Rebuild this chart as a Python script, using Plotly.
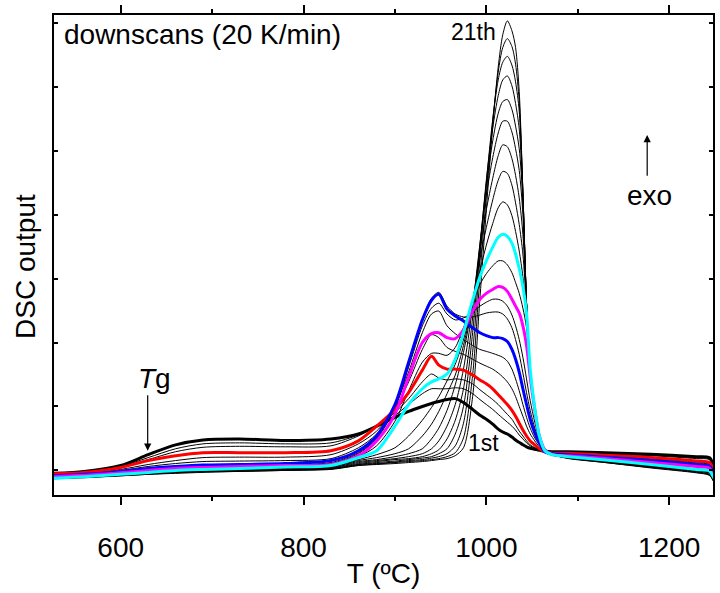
import plotly.graph_objects as go

# Temperature grid (ºC)
temperature = [527, 560, 600, 630, 660, 690, 730, 780, 830, 860, 880, 900, 915, 930, 940, 948,
               957, 966, 975, 985, 993, 1000, 1007, 1013, 1018, 1023, 1028, 1032, 1036, 1040,
               1044, 1048, 1053, 1058, 1064, 1072, 1090, 1130, 1180, 1230, 1244, 1249]

# DSC output (arbitrary units) for the 21 downscans
scan_01 = [22, 24, 30, 41, 51, 56, 57, 55.5, 57,
           62, 70, 79, 85, 90, 93, 95, 97, 98, 94, 87, 81, 77, 72, 67, 64, 62, 59, 56, 53.5, 51, 49, 47.5, 46.5, 45.5, 44.5, 44,
           44, 43, 41.5, 39, 38, 30]
scan_02 = [21.5, 23.5, 29, 38, 47, 52, 53, 52, 53,
           61, 70, 81, 92, 103, 108, 108, 108, 109, 108, 103, 97, 92, 87, 82, 78, 74, 70, 66, 61, 57, 53, 50, 48, 46, 44.5, 43.5,
           43.5, 42, 40.5, 38, 37, 29]
scan_03 = [21, 23, 28.5, 36, 44, 48.5, 49.5, 49, 50,
           60, 70, 84, 98, 115, 123, 119, 117, 118, 117, 113, 107, 102, 97, 92, 87, 82, 77, 71, 65, 60, 55, 51, 48, 46, 44, 43,
           43, 41.5, 40, 37, 36, 28]
scan_04 = [21.5, 23, 28, 35, 40, 43, 43, 43, 45,
           55, 70, 87, 104, 127, 141, 132, 128, 128, 127, 122, 117, 113, 108, 102, 97, 92, 86, 80, 73, 66, 60, 55, 51, 47, 44, 42.5,
           42.5, 40.5, 38, 34.5, 33, 25]
scan_05 = [20.5, 22, 26, 31, 35, 38, 38.5, 38.5, 41,
           52, 65, 88, 115, 148, 163, 160, 150, 146, 143, 138, 134, 131, 128, 124, 120, 115, 108, 100, 90, 80, 70, 62, 55, 49, 44, 42,
           42, 40, 37, 33.5, 32, 24]
scan_06 = [20, 21.5, 25, 29, 32, 34, 34.5, 35, 37,
           48, 62, 90, 125, 165, 184, 187, 172, 164, 158, 152, 148, 146, 144, 142, 140, 136, 128, 118, 106, 92, 79, 68, 58, 51, 44, 42,
           41.5, 39, 36, 32.5, 31, 23]
scan_07 = [19.5, 21, 24, 27, 29, 30.5, 31, 32, 35,
           45, 60, 92, 135, 178, 198, 204, 189, 182, 177, 170, 165, 162, 160, 160, 159, 156, 148, 138, 125, 108, 92, 77, 63, 53, 44, 42,
           41, 38.5, 35, 31, 29.5, 22]
scan_08 = [19, 20.5, 23.5, 26, 28, 29.5, 30, 31, 33,
           43, 58, 90, 133, 178, 200, 206, 192, 184, 181, 181, 183, 185, 186, 186, 184, 179, 170, 158, 143, 124, 104, 86, 68, 55, 45, 41,
           40.5, 38, 34.5, 30.5, 29, 21]
scan_09 = [19, 20.5, 23, 25.5, 27.5, 29, 29.5, 30.5, 32,
           42, 57, 88, 130, 172, 190, 195, 184, 178, 180, 186, 192, 196, 199, 199, 197, 192, 183, 172, 158, 140, 118, 96, 74, 57, 45, 41,
           40, 37.5, 34, 30, 28.5, 20.5]
scan_10 = [18.5, 20, 22.5, 25, 27, 28, 29, 30, 31,
           40, 55, 82, 120, 155, 164, 165, 160, 159, 168, 187, 199, 205, 209, 212, 211, 207, 199, 192, 185, 172, 152, 120, 87, 60, 46, 41,
           40, 37, 33, 29, 27.5, 20]
scan_11 = [18.5, 20, 22, 24.5, 26.5, 27.5, 28, 29.5, 30.5,
           39, 50, 75, 106, 135, 144, 144, 142, 150, 170, 196, 214, 225, 233, 238, 238, 234, 226, 216, 205, 190, 170, 126, 88, 60, 45, 41,
           39.5, 36.5, 32.5, 28.5, 27, 19.5]
scan_12 = [17, 18.5, 21, 23, 25, 26, 27, 28.5, 30,
           38, 45, 70, 92, 108, 115, 118, 123, 138, 165, 198, 222, 238, 252, 262, 265, 263, 256, 245, 230, 212, 185, 128, 88, 60, 45, 41,
           39, 35.5, 31, 26, 24.5, 17]
scan_13 = [18, 19.5, 21.5, 23.5, 25.5, 26.5, 27, 28, 29.5,
           36, 41, 48, 60, 76, 89, 100, 116, 133, 158, 195, 228, 254, 276, 292, 298, 295, 284, 268, 248, 222, 180, 126, 86, 59, 45, 41,
           39, 35.5, 31, 26.5, 25, 17]
scan_14 = [18, 19, 21, 23, 25, 26, 26.5, 27.5, 29,
           35, 38, 42, 47, 60, 72, 85, 103, 122, 152, 196, 240, 272, 300, 320, 329, 327, 315, 297, 275, 245, 190, 128, 86, 59, 45, 41,
           39, 35.5, 30.5, 26, 24.5, 16.5]
scan_15 = [17.5, 19, 21, 23, 24.5, 25.5, 26, 27, 28.5,
           34, 36, 39, 42, 47, 57, 68, 86, 112, 145, 195, 248, 290, 322, 345, 356, 354, 342, 325, 302, 265, 195, 128, 85, 58, 45, 41,
           38.5, 35, 30, 25.5, 24, 16]
scan_16 = [17.5, 18.5, 20.5, 22.5, 24, 25, 25.5, 26.5, 28,
           33, 35, 37, 39, 42, 47, 55, 70, 92, 128, 192, 255, 305, 343, 368, 380, 380, 369, 352, 330, 285, 195, 128, 85, 58, 45, 41,
           38.5, 34.5, 29.5, 25, 23, 15.5]
scan_17 = [17.5, 18.5, 20.5, 22, 23.5, 24.5, 25, 26, 27.5,
           32, 34, 36, 37, 39, 42, 46, 57, 76, 108, 180, 255, 315, 360, 388, 400, 402, 392, 375, 352, 298, 195, 128, 85, 58, 45, 41,
           38, 34, 29, 24.5, 22.5, 15]
scan_18 = [17, 18, 20, 21.5, 23, 24, 24.5, 25.5, 27,
           31, 33, 34.5, 36, 37.5, 39, 42, 47, 62, 90, 165, 250, 320, 373, 406, 422, 426, 416, 398, 372, 305, 195, 128, 85, 58, 45, 41,
           38, 34, 29, 24, 22, 14.5]
scan_19 = [17, 18, 20, 21.5, 23, 24, 24.5, 25.5, 26.5,
           31, 32, 33.5, 35, 36, 37.5, 39, 42, 50, 73, 145, 240, 318, 382, 422, 440, 446, 437, 420, 390, 308, 195, 128, 85, 58, 45, 41,
           37.5, 33.5, 28.5, 23.5, 21, 14]
scan_20 = [17, 18, 19.5, 21, 22.5, 23.5, 24, 25, 26.5,
           30, 31.5, 33, 34, 35, 36, 37, 39, 43, 58, 122, 222, 305, 380, 430, 455, 464, 456, 438, 400, 308, 195, 128, 85, 58, 45, 41,
           37.5, 33, 28, 23, 20.5, 13.5]
scan_21 = [16.5, 17.5, 19.5, 21, 22, 23, 24, 25, 26,
           30, 31, 32, 33, 34, 35, 36, 37, 40, 48, 100, 200, 290, 375, 435, 468, 482, 472, 455, 410, 308, 195, 128, 85, 58, 45, 41,
           37, 33, 27.5, 22.5, 20, 13]

scans = [scan_01, scan_02, scan_03, scan_04, scan_05, scan_06, scan_07, scan_08, scan_09, scan_10,
         scan_11, scan_12, scan_13, scan_14, scan_15, scan_16, scan_17, scan_18, scan_19, scan_20, scan_21]

# highlighted scans (index -> colour)
highlight = {0: "#000000", 3: "#FF0000", 6: "#0000FF", 9: "#FF00FF", 11: "#00FFFF"}

FONT = "Liberation Sans, Arial, sans-serif"

fig = go.Figure()
order = [i for i in range(len(scans)) if i not in highlight] + [0, 3, 6, 9, 11]
for i in order:
    thick = i in highlight
    fig.add_trace(go.Scatter(
        x=temperature, y=scans[i], mode="lines",
        line=dict(color=highlight.get(i, "#000000"), width=3 if thick else 1,
                  shape="spline", smoothing=0.8),
        name=f"scan {i + 1}", showlegend=False, hoverinfo="skip"))

fig.update_layout(
    width=720, height=593,
    margin=dict(l=54, r=5, t=7, b=98),
    paper_bgcolor="white", plot_bgcolor="white",
    font=dict(family=FONT, size=28, color="black"),
    showlegend=False,
)
fig.update_xaxes(
    range=[527, 1248], showgrid=False, zeroline=False,
    showline=True, linecolor="black", linewidth=2, mirror="allticks",
    ticks="outside", ticklen=8, tickwidth=1.5, tickcolor="black",
    tick0=0, dtick=200, ticklabelstandoff=18,
    minor=dict(ticks="outside", ticklen=4, tickwidth=1.5, tickcolor="black", dtick=100, tick0=0, showgrid=False),
    tickfont=dict(family=FONT, size=28),
    title=dict(text="T (ºC)", font=dict(family=FONT, size=28), standoff=2),
)
fig.update_yaxes(
    range=[0, 488], showgrid=False, zeroline=False,
    showline=True, linecolor="black", linewidth=2, mirror="allticks",
    ticks="inside", ticklen=4, tickwidth=1.5, tickcolor="black",
    tick0=25, dtick=65, showticklabels=False,
)

# y-axis title
fig.add_annotation(xref="paper", yref="paper", x=-0.044, y=0.475, xanchor="center", yanchor="middle",
                   text="DSC output", textangle=-90, showarrow=False, font=dict(family=FONT, size=28))

# text labels
fig.add_annotation(xref="paper", yref="paper", x=0.012, y=0.96, xanchor="left", yanchor="middle",
                   text="downscans (20 K/min)", showarrow=False, font=dict(family=FONT, size=28))
fig.add_annotation(x=986, y=471, text="21th", showarrow=False, font=dict(family=FONT, size=23),
                   xanchor="center", yanchor="middle")
fig.add_annotation(x=997, y=53, text="1st", showarrow=False, font=dict(family=FONT, size=23),
                   xanchor="center", yanchor="middle")
fig.add_annotation(x=637, y=118, text="<i>T</i>g", showarrow=False, font=dict(family=FONT, size=28),
                   xanchor="center", yanchor="middle")
fig.add_annotation(x=1178, y=305, text="exo", showarrow=False, font=dict(family=FONT, size=28),
                   xanchor="center", yanchor="middle")
# arrows
fig.add_annotation(x=629.5, y=45, ax=629.5, ay=103, xref="x", yref="y", axref="x", ayref="y",
                   text="", showarrow=True, arrowhead=2, arrowsize=1.2, arrowwidth=1.2, arrowcolor="black")
fig.add_annotation(x=1176, y=366, ax=1176, ay=323, xref="x", yref="y", axref="x", ayref="y",
                   text="", showarrow=True, arrowhead=2, arrowsize=1.2, arrowwidth=1.2, arrowcolor="black")

fig.write_html("out.html")
